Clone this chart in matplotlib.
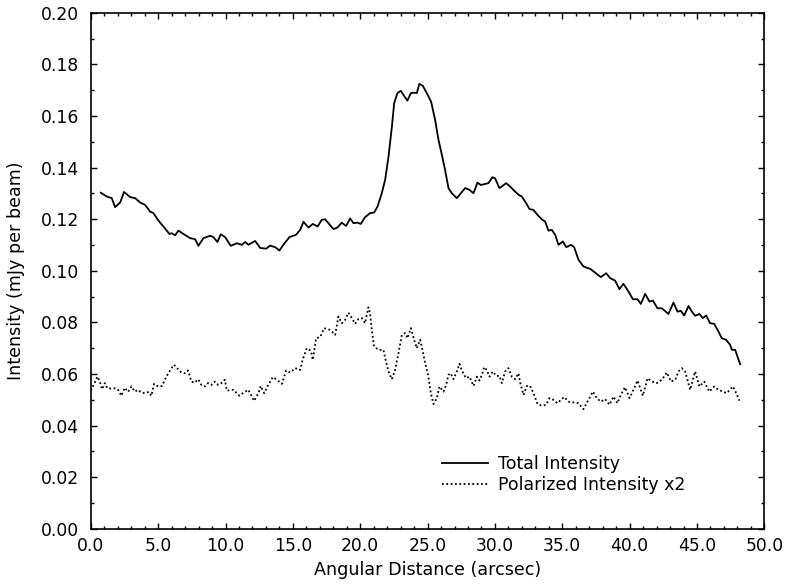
import matplotlib
matplotlib.use("Agg")
import matplotlib.pyplot as plt
from matplotlib.ticker import MultipleLocator, FormatStrFormatter

plt.rcParams['font.family'] = ['DejaVu Sans']

# total intensity
tot_x = [0.74, 1.19, 1.56, 1.80, 2.18, 2.47, 2.92, 3.29, 3.66, 4.03, 4.40, 4.65,
         5.02, 5.39, 5.84, 6.01, 6.26, 6.51, 6.88, 7.37, 7.74, 7.99, 8.36, 8.86,
         9.10, 9.40, 9.65, 9.97, 10.39, 10.84, 11.21, 11.46, 11.70, 12.20, 12.57,
         13.01, 13.31, 13.68, 14.00, 14.35, 14.75, 15.24, 15.54, 15.79, 16.16,
         16.48, 16.83, 17.15, 17.39, 17.64, 18.01, 18.31, 18.63, 18.95, 19.25,
         19.50, 19.79, 20.04, 20.36, 20.73, 21.03, 21.28, 21.60, 21.85, 22.10,
         22.35, 22.52, 22.76, 23.01, 23.26, 23.50, 23.76, 24.00, 24.20, 24.39,
         24.65, 24.94, 25.26, 25.56, 25.81, 26.06, 26.30, 26.55, 26.80, 27.17,
         27.47, 27.79, 28.11, 28.41, 28.70, 28.95, 29.27, 29.52, 29.81, 30.01,
         30.33, 30.51, 30.83, 31.13, 31.43, 31.75, 32.00, 32.32, 32.56, 32.86,
         33.23, 33.48, 33.73, 33.97, 34.22, 34.47, 34.72, 35.04, 35.29, 35.64,
         35.88, 36.20, 36.57, 37.07, 37.44, 37.86, 38.26, 38.55, 38.92, 39.24,
         39.54, 39.91, 40.24, 40.58, 40.83, 41.15, 41.47, 41.72, 42.07, 42.39,
         42.88, 43.25, 43.55, 43.80, 44.05, 44.37, 44.62, 44.86, 45.18, 45.43,
         45.68, 45.97, 46.27, 46.59, 46.84, 47.16, 47.46, 47.59, 47.83, 48.20]
tot_y = [0.1303, 0.1288, 0.1282, 0.1247, 0.1265, 0.1306, 0.1286, 0.1282, 0.1265,
         0.1256, 0.1230, 0.1224, 0.1195, 0.1172, 0.1143, 0.1146, 0.1138, 0.1156,
         0.1143, 0.1127, 0.1123, 0.1097, 0.1127, 0.1136, 0.1131, 0.1112, 0.1142,
         0.1131, 0.1097, 0.1107, 0.1101, 0.1112, 0.1101, 0.1116, 0.1089, 0.1086,
         0.1098, 0.1092, 0.1079, 0.1105, 0.1131, 0.1140, 0.1159, 0.1190, 0.1168,
         0.1182, 0.1172, 0.1198, 0.1200, 0.1185, 0.1162, 0.1168, 0.1187, 0.1174,
         0.1203, 0.1185, 0.1187, 0.1182, 0.1208, 0.1224, 0.1226, 0.1249, 0.1301,
         0.1353, 0.1443, 0.1559, 0.1650, 0.1689, 0.1698, 0.1678, 0.1660, 0.1689,
         0.1691, 0.1689, 0.1725, 0.1717, 0.1689, 0.1656, 0.1585, 0.1508, 0.1450,
         0.1391, 0.1321, 0.1301, 0.1282, 0.1301, 0.1321, 0.1314, 0.1301, 0.1342,
         0.1333, 0.1337, 0.1340, 0.1363, 0.1359, 0.1321, 0.1327, 0.1340, 0.1327,
         0.1311, 0.1295, 0.1288, 0.1262, 0.1240, 0.1236, 0.1213, 0.1200, 0.1191,
         0.1156, 0.1159, 0.1140, 0.1101, 0.1114, 0.1092, 0.1101, 0.1092, 0.1043,
         0.1017, 0.1008, 0.0993, 0.0976, 0.0991, 0.0972, 0.0962, 0.0929, 0.0950,
         0.0920, 0.0890, 0.0890, 0.0872, 0.0911, 0.0881, 0.0885, 0.0855, 0.0855,
         0.0833, 0.0877, 0.0842, 0.0845, 0.0827, 0.0864, 0.0842, 0.0826, 0.0833,
         0.0817, 0.0827, 0.0797, 0.0795, 0.0765, 0.0739, 0.0733, 0.0713, 0.0694,
         0.0694, 0.0638]

# polarized intensity x2
pol_x = [0.00, 0.25, 0.49, 0.67, 0.84, 1.04, 1.23, 1.48, 1.78, 2.03, 2.27, 2.52,
         2.77, 3.02, 3.27, 3.51, 3.76, 4.01, 4.30, 4.50, 4.70, 5.00, 5.29, 5.61,
         5.94, 6.18, 6.48, 6.73, 6.98, 7.22, 7.47, 7.72, 7.97, 8.21, 8.46, 8.71,
         8.95, 9.21, 9.45, 9.70, 9.95, 10.10, 10.59, 11.03, 11.33, 11.70, 12.12,
         12.44, 12.62, 12.87, 13.11, 13.51, 13.81, 14.18, 14.50, 14.80, 15.17,
         15.54, 15.74, 16.03, 16.33, 16.48, 16.73, 17.02, 17.32, 17.77, 18.14,
         18.38, 18.63, 18.88, 19.12, 19.38, 19.62, 19.87, 20.12, 20.36, 20.61,
         20.73, 20.86, 21.03, 21.35, 21.72, 21.85, 22.10, 22.35, 22.59, 22.84,
         23.09, 23.33, 23.50, 23.76, 24.00, 24.20, 24.45, 24.65, 24.82, 25.06,
         25.24, 25.44, 25.69, 25.88, 26.18, 26.38, 26.55, 26.72, 26.92, 27.17,
         27.37, 27.54, 27.86, 28.11, 28.41, 28.66, 28.85, 29.03, 29.20, 29.40,
         29.59, 29.84, 30.09, 30.33, 30.51, 30.76, 31.00, 31.25, 31.50, 31.75,
         31.88, 32.12, 32.37, 32.61, 32.86, 33.16, 33.48, 33.80, 34.05, 34.34,
         34.64, 34.89, 35.14, 35.46, 35.83, 36.20, 36.57, 36.94, 37.27, 37.56,
         37.86, 38.18, 38.50, 38.80, 39.09, 39.34, 39.66, 39.99, 40.28, 40.58,
         40.98, 41.33, 41.65, 42.02, 42.39, 42.76, 43.06, 43.38, 43.62, 43.87,
         44.12, 44.49, 44.86, 45.18, 45.53, 45.92, 46.27, 46.59, 46.91, 47.21,
         47.66, 47.91, 48.15]
pol_y = [0.0536, 0.0562, 0.0590, 0.0571, 0.0541, 0.0565, 0.0545, 0.0544, 0.0545,
         0.0539, 0.0516, 0.0547, 0.0531, 0.0552, 0.0532, 0.0539, 0.0528, 0.0526,
         0.0531, 0.0516, 0.0562, 0.0552, 0.0554, 0.0590, 0.0619, 0.0636, 0.0619,
         0.0606, 0.0603, 0.0614, 0.0571, 0.0567, 0.0580, 0.0558, 0.0552, 0.0565,
         0.0558, 0.0571, 0.0558, 0.0565, 0.0578, 0.0536, 0.0539, 0.0516, 0.0528,
         0.0539, 0.0496, 0.0526, 0.0554, 0.0526, 0.0552, 0.0588, 0.0578, 0.0562,
         0.0614, 0.0606, 0.0623, 0.0616, 0.0658, 0.0700, 0.0691, 0.0655, 0.0739,
         0.0743, 0.0778, 0.0771, 0.0752, 0.0823, 0.0797, 0.0810, 0.0838, 0.0817,
         0.0795, 0.0813, 0.0817, 0.0797, 0.0859, 0.0836, 0.0771, 0.0707, 0.0694,
         0.0694, 0.0662, 0.0610, 0.0580, 0.0616, 0.0681, 0.0752, 0.0759, 0.0739,
         0.0778, 0.0733, 0.0700, 0.0733, 0.0687, 0.0642, 0.0590, 0.0526, 0.0484,
         0.0507, 0.0552, 0.0532, 0.0558, 0.0597, 0.0603, 0.0580, 0.0610, 0.0640,
         0.0614, 0.0584, 0.0590, 0.0554, 0.0590, 0.0575, 0.0597, 0.0627, 0.0616,
         0.0590, 0.0610, 0.0593, 0.0593, 0.0565, 0.0610, 0.0623, 0.0590, 0.0580,
         0.0603, 0.0565, 0.0519, 0.0554, 0.0554, 0.0526, 0.0484, 0.0477, 0.0481,
         0.0507, 0.0500, 0.0487, 0.0500, 0.0511, 0.0493, 0.0490, 0.0487, 0.0464,
         0.0500, 0.0532, 0.0507, 0.0493, 0.0503, 0.0481, 0.0513, 0.0487, 0.0519,
         0.0549, 0.0507, 0.0539, 0.0575, 0.0516, 0.0584, 0.0571, 0.0565, 0.0578,
         0.0606, 0.0571, 0.0578, 0.0610, 0.0623, 0.0610, 0.0539, 0.0610, 0.0552,
         0.0571, 0.0532, 0.0552, 0.0539, 0.0532, 0.0526, 0.0552, 0.0526, 0.0497]

fig = plt.figure(figsize=(7.86, 5.86), dpi=100)
ax = fig.add_axes([0.1155, 0.0975, 0.857, 0.8805])

ax.plot(tot_x, tot_y, color='black', lw=1.3, label='Total Intensity')
ax.plot(pol_x, pol_y, color='black', lw=1.3, linestyle=(0, (1, 1.4)),
        label='Polarized Intensity x2')

ax.set_xlim(0, 50)
ax.set_ylim(0, 0.20)
ax.xaxis.set_major_locator(MultipleLocator(5))
ax.xaxis.set_minor_locator(MultipleLocator(1))
ax.yaxis.set_major_locator(MultipleLocator(0.02))
ax.yaxis.set_minor_locator(MultipleLocator(0.01))
ax.xaxis.set_major_formatter(FormatStrFormatter('%.1f'))
ax.yaxis.set_major_formatter(FormatStrFormatter('%.2f'))
ax.tick_params(which='both', direction='in', top=True, right=True,
               labelsize=12.3, width=1)
ax.tick_params(axis='x', which='major', length=4.5, pad=5.5)
ax.tick_params(axis='y', which='major', length=4.5, pad=8.5)
ax.tick_params(which='minor', length=2.3)
for s in ax.spines.values():
    s.set_linewidth(1.2)

ax.set_xlabel('Angular Distance (arcsec)', fontsize=12.6)
ax.set_ylabel('Intensity (mJy per beam)', fontsize=12.6)
ax.xaxis.set_label_coords(0.5, -0.062)
ax.yaxis.set_label_coords(-0.097, 0.5)

ax.legend(loc='center left', bbox_to_anchor=(0.522, 0.1056), frameon=False,
          fontsize=12.5, handlelength=2.6, handletextpad=0.63,
          labelspacing=0.2, borderpad=0, borderaxespad=0)

fig.savefig('out.png', dpi=100)
